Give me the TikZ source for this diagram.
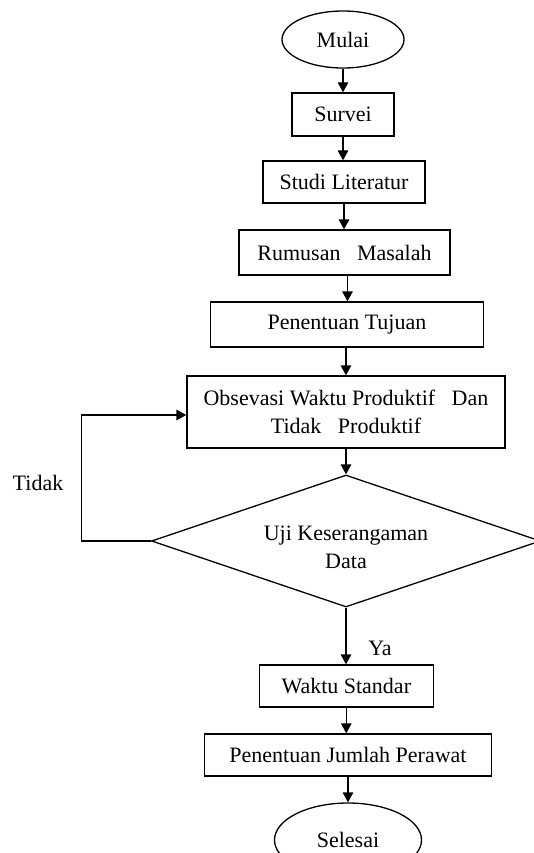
\documentclass[tikz,border=0pt]{standalone}
\usepackage{fontspec}
\setmainfont{Liberation Serif}
\usetikzlibrary{shapes.geometric,arrows.meta}
\begin{document}
\begin{tikzpicture}[x=1pt,y=-1pt,
  every node/.style={font=\fontsize{22}{28}\selectfont},
  proc/.style={draw,line width=1.3pt,rectangle,inner sep=0pt,align=center},
  term/.style={draw,line width=1.3pt,ellipse,inner sep=0pt},
  dec/.style={draw,line width=1.3pt,diamond,inner sep=0pt,aspect=2.95,minimum width=389pt,minimum height=132pt},
  arr/.style={line width=1.3pt,-{Triangle[length=10pt,width=10.5pt]}},
  lbl/.style={inner sep=0pt}
]
\useasboundingbox (0,0) rectangle (534,853);
\fill[white] (0,0) rectangle (534,853);
\node[term,minimum width=122pt,minimum height=57pt] (mulai) at (343,39.5) {Mulai};
\node[proc,minimum width=102pt,minimum height=43pt] (survei) at (343,114.5) {Survei};
\node[proc,minimum width=162pt,minimum height=42pt] (studi) at (344,182) {Studi Literatur};
\node[proc,minimum width=211pt,minimum height=45pt] (rumusan) at (344.5,252.5) {Rumusan\ \ \ Masalah};
\node[proc,minimum width=273pt,minimum height=45pt] (tujuan) at (347,324.5) {Penentuan Tujuan};
\node[proc,minimum width=318pt,minimum height=72pt] (obs) at (346,412) {Obsevasi Waktu Produktif\ \ \ Dan\\Tidak\ \ \ Produktif};
\node[dec] (uji) at (346,541) {};
\node[lbl,align=center] (ujitext) at (346,547) {Uji Keserangaman\\Data};
\node[proc,minimum width=174pt,minimum height=42pt] (waktu) at (346.3,686) {Waktu Standar};
\node[proc,minimum width=287pt,minimum height=42pt] (jumlah) at (348,755) {Penentuan Jumlah Perawat};
\node[term,minimum width=147pt,minimum height=74pt] (selesai) at (348,840) {Selesai};
\node[lbl] (tidak) at (38,483) {Tidak};
\node[lbl] (ya) at (380,648) {Ya};
\coordinate (lp) at (81.7,415);

\draw[arr] (mulai.south) -- (mulai.south |- survei.north);
\draw[arr] (survei.south) -- (survei.south |- studi.north);
\draw[arr] (studi.south) -- (studi.south |- rumusan.north);
\draw[arr] ([xshift=3pt]rumusan.south) -- ([xshift=3pt]rumusan.south |- tujuan.north);
\draw[arr] ([xshift=-1pt]tujuan.south) -- ([xshift=-1pt]tujuan.south |- obs.north);
\draw[arr] (obs.south) -- (uji.north);
\draw[arr] (uji.south) -- (uji.south |- waktu.north);
\draw[arr] (waktu.south) -- (waktu.south |- jumlah.north);
\draw[arr] (jumlah.south) -- (jumlah.south |- selesai.north);
\draw[arr] (uji.west) -| (lp) -- (obs.west |- lp);
\end{tikzpicture}
\end{document}
